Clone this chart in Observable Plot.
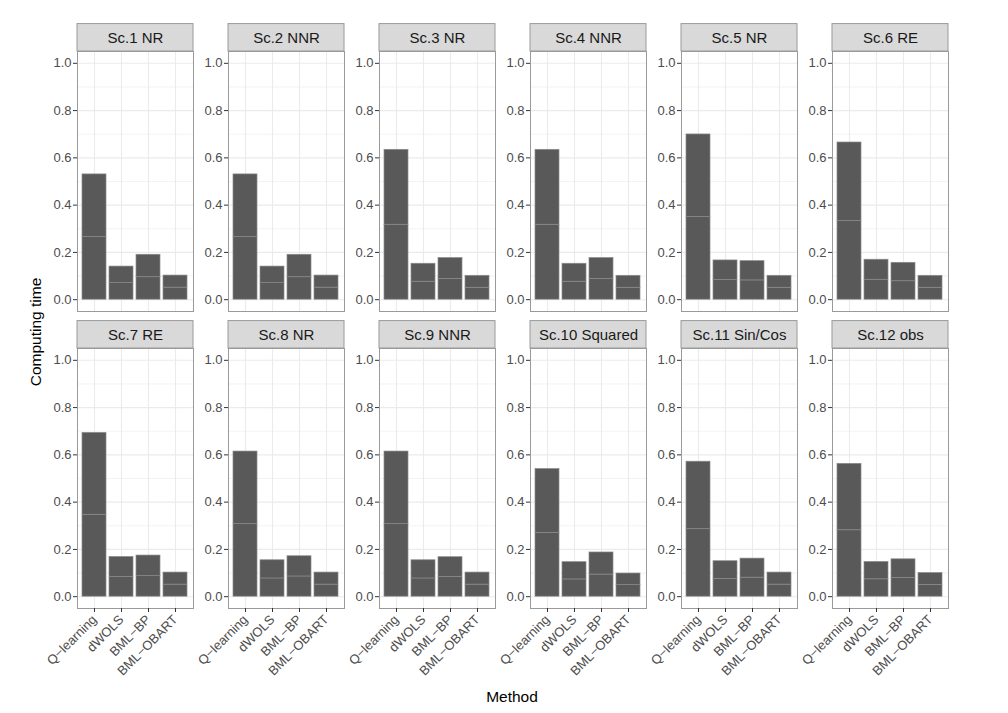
<!DOCTYPE html>
<html>
<head>
<meta charset="utf-8">
<script src="https://cdn.jsdelivr.net/npm/d3@7"></script>
<script src="https://cdn.jsdelivr.net/npm/@observablehq/plot@0.6"></script>
<style>
  body { margin: 0; background: #fff; }
  #wrap { position: relative; width: 1008px; height: 713px; font-family: "Liberation Sans", Arial, sans-serif; }
  #wrap svg { position: absolute; left: 0; top: 0; }
  .ytitle { position: absolute; left: 36px; top: 332px; transform: translate(-50%, -50%) rotate(-90deg); font-size: 15.5px; color: #000; white-space: nowrap; }
  .xtitle { position: absolute; left: 512px; top: 697px; transform: translate(-50%, -50%); font-size: 15.5px; color: #000; white-space: nowrap; }
</style>
</head>
<body>
<div id="wrap"></div>
<script>
const scenarios = ["Sc.1 NR", "Sc.2 NNR", "Sc.3 NR", "Sc.4 NNR", "Sc.5 NR", "Sc.6 RE",
                   "Sc.7 RE", "Sc.8 NR", "Sc.9 NNR", "Sc.10 Squared", "Sc.11 Sin/Cos", "Sc.12 obs"];
const methods = ["Q\u2212learning", "dWOLS", "BML\u2212BP", "BML\u2212OBART"];
const qLearning = [0.530, 0.530, 0.634, 0.634, 0.699, 0.665, 0.693, 0.614, 0.614, 0.540, 0.571, 0.562];
const dWOLS     = [0.140, 0.140, 0.152, 0.152, 0.166, 0.169, 0.168, 0.154, 0.154, 0.146, 0.150, 0.147];
const bmlBP     = [0.190, 0.190, 0.176, 0.176, 0.163, 0.156, 0.174, 0.171, 0.167, 0.187, 0.161, 0.158];
const bmlOBART  = [0.102, 0.102, 0.101, 0.101, 0.101, 0.101, 0.102, 0.102, 0.102, 0.098, 0.102, 0.100];
const yTicks = [0, 0.2, 0.4, 0.6, 0.8, 1.0];
const yMinor = [0.1, 0.3, 0.5, 0.7, 0.9];

const series = [qLearning, dWOLS, bmlBP, bmlOBART];
const rows = [];
scenarios.forEach((s, i) => {
  methods.forEach((m, j) => {
    const v = series[j][i];
    // two equal stacked halves (as in the original stacked bars)
    rows.push({scenario: s, col: i % 6, row: Math.floor(i / 6), method: m, part: 1, value: v / 2});
    rows.push({scenario: s, col: i % 6, row: Math.floor(i / 6), method: m, part: 2, value: v / 2});
  });
});
const strips = scenarios.map((s, i) => ({name: s, col: i % 6, row: Math.floor(i / 6)}));

const chart = Plot.plot({
  width: 1008,
  height: 713,
  marginTop: 50,
  marginBottom: 104,
  marginLeft: 76,
  marginRight: 59,
  style: {fontFamily: "'Liberation Sans', Arial, sans-serif", fontSize: "13px", background: "white"},
  fx: {domain: [0, 1, 2, 3, 4, 5], paddingInner: 0.234, paddingOuter: 0, axis: null},
  fy: {domain: [0, 1], paddingInner: 0.123, paddingOuter: 0, axis: null},
  x: {domain: methods, paddingInner: 0.1, paddingOuter: 0.15, align: 0.5},
  y: {domain: [-0.05, 1.05]},
  marks: [
    Plot.ruleY(yMinor, {stroke: "#EBEBEB", strokeWidth: 0.6}),
    Plot.ruleY(yTicks, {stroke: "#EBEBEB", strokeWidth: 1.1}),
    Plot.ruleX(methods, {stroke: "#EBEBEB", strokeWidth: 1.1}),
    Plot.barY(rows, {x: "method", y: "value", fx: "col", fy: "row", fill: "#595959", stroke: "#8a8a8a", strokeWidth: 0.7}),
    Plot.frame({stroke: "#9a9a9a", strokeWidth: 1}),
    Plot.barY(strips, {fx: "col", fy: "row", y1: 1.05, y2: 1.166, fill: "#D9D9D9", stroke: "#9a9a9a", strokeWidth: 1}),
    Plot.text(strips, {fx: "col", fy: "row", y: 1.108, text: "name", frameAnchor: "middle", fontSize: 15, fill: "#1a1a1a"}),
    Plot.axisY({ticks: yTicks, tickFormat: d => d.toFixed(1), tickSize: 4, tickPadding: 2, fontSize: 13, stroke: "#333", fill: "#4d4d4d", label: null, facetAnchor: null}),
    Plot.axisX({tickRotate: -45, tickSize: 4, tickPadding: 5, fontSize: 13, stroke: "#333", fill: "#4d4d4d", label: null})
  ]
});

const wrap = document.getElementById("wrap");
wrap.appendChild(chart);
const yt = document.createElement("div"); yt.className = "ytitle"; yt.textContent = "Computing time"; wrap.appendChild(yt);
const xt = document.createElement("div"); xt.className = "xtitle"; xt.textContent = "Method"; wrap.appendChild(xt);
</script>
</body>
</html>
